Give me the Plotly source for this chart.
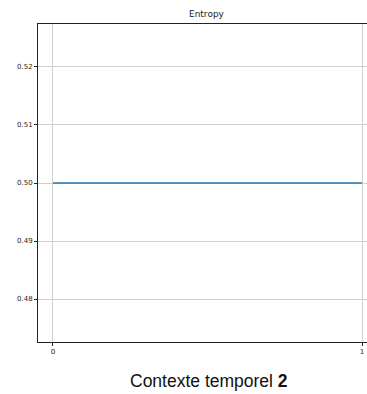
import plotly.graph_objects as go

x_values = [0, 1]
entropy_values = [0.5, 0.5]
y_tick_vals = [0.48, 0.49, 0.50, 0.51, 0.52]
y_tick_text = ["0.48", "0.49", "0.50", "0.51", "0.52"]
x_tick_vals = [0, 1]
x_tick_text = ["0", "1"]
title_text = "Entropy"
caption_text = "Contexte temporel <b>2</b>"

fig = go.Figure()
fig.add_trace(go.Scatter(x=x_values, y=entropy_values, mode="lines",
                         line=dict(color="#1f77b4", width=1.6), showlegend=False))

axis_font = dict(family="DejaVu Sans", size=7, color="#262626")
fig.update_layout(
    width=367, height=394,
    margin=dict(l=38, r=0, t=24, b=52),
    paper_bgcolor="white", plot_bgcolor="white",
    title=dict(text=title_text, x=0.5625, xanchor="center", y=1 - 14/394, yanchor="middle",
               font=dict(family="DejaVu Sans", size=9, color="#222222")),
    xaxis=dict(range=[-0.0485, 1.016], tickvals=x_tick_vals, ticktext=x_tick_text,
               showgrid=True, gridcolor="#d0d0d0", gridwidth=1,
               showline=True, linecolor="#222222", linewidth=1, mirror=True,
               ticks="outside", ticklen=3, tickcolor="#222222", tickfont=axis_font,
               zeroline=False),
    yaxis=dict(range=[0.47259, 0.52741], tickvals=y_tick_vals, ticktext=y_tick_text,
               showgrid=True, gridcolor="#d0d0d0", gridwidth=1,
               showline=True, linecolor="#222222", linewidth=1,
               ticks="outside", ticklen=3, tickcolor="#222222", tickfont=axis_font,
               zeroline=False),
    annotations=[dict(text=caption_text, xref="paper", yref="paper",
                      x=(209-38)/329, y=-(381-342)/318, xanchor="center", yanchor="middle",
                      showarrow=False,
                      font=dict(family="Liberation Sans", size=17.5, color="#111111"))],
)

fig.write_html("out.html", config={"displayModeBar": False},
               post_script="document.body.style.margin='0';document.body.style.overflow='hidden';")
